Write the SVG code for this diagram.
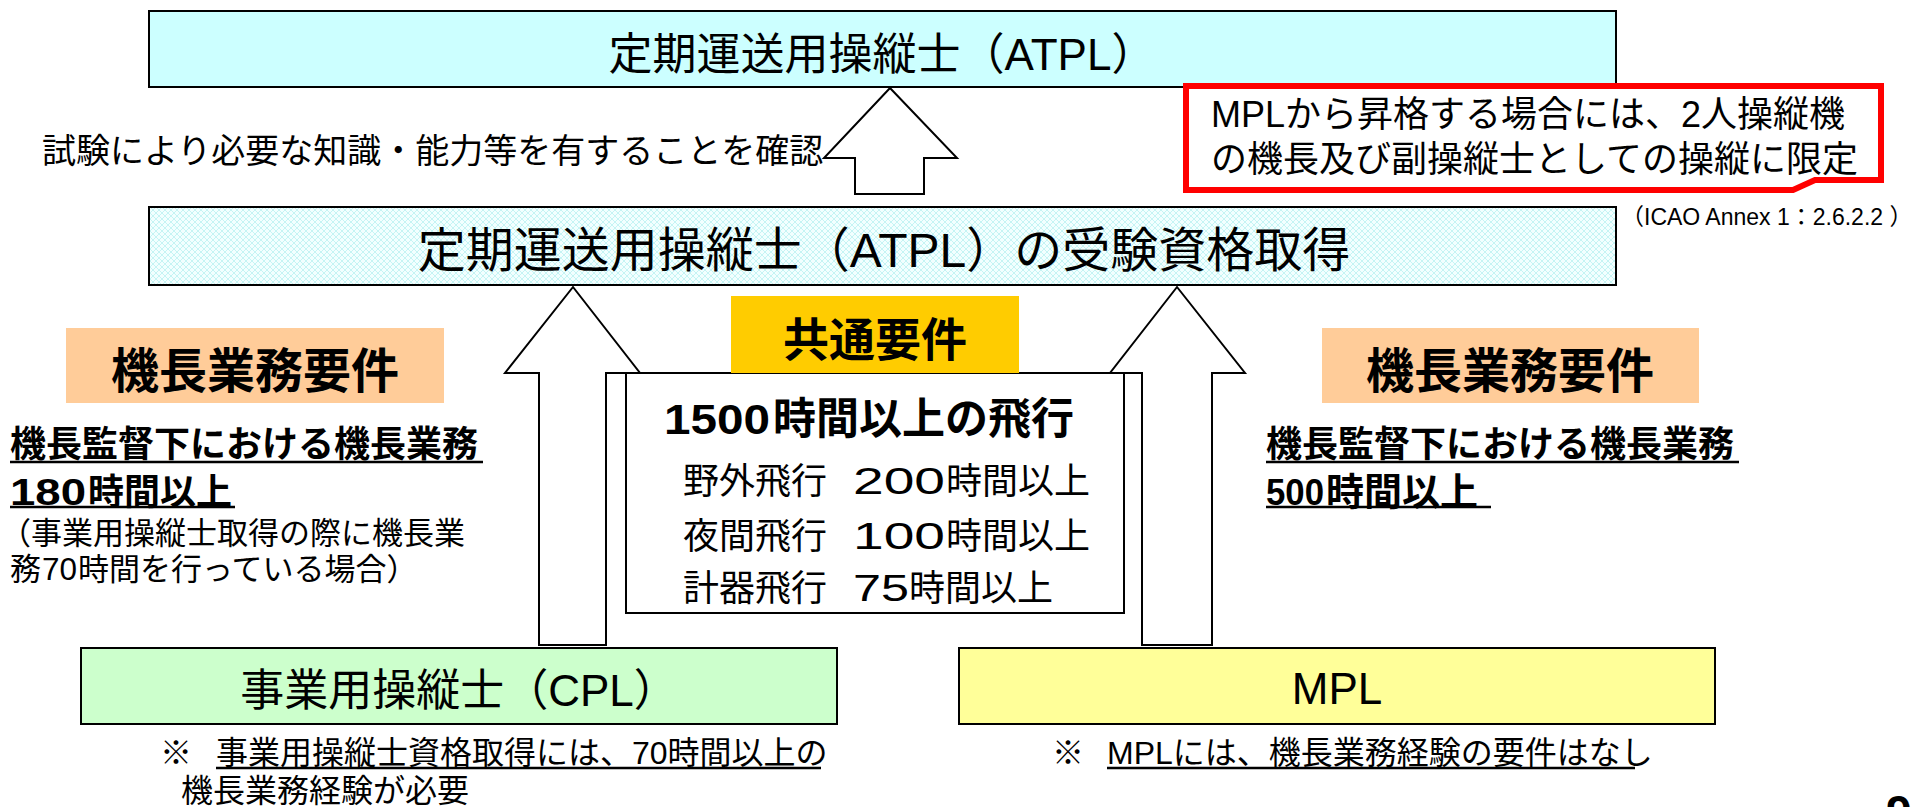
<svg xmlns="http://www.w3.org/2000/svg" width="1913" height="807" viewBox="0 0 1913 807">
<style>
text { font-family: 'Liberation Sans', 'Noto Sans CJK JP', sans-serif; fill: #000; }
.b { font-weight: bold; }
.box { stroke: #000; stroke-width: 2; }
.arrow { fill: #fff; stroke: #000; stroke-width: 2; stroke-linejoin: miter; }
.ul { stroke: #000; stroke-width: 2.5; }
</style>
<defs>
<pattern id="lattice" width="6" height="6" patternUnits="userSpaceOnUse">
<rect width="6" height="6" fill="#F2FFFF"/>
<path d="M0,3 L3,0 L6,3 L3,6 Z" fill="none" stroke="#BFF3F3" stroke-width="0.9"/>
</pattern>
</defs>
<rect width="1913" height="807" fill="#fff"/>

<g id="connectors">
<polygon class="arrow" points="890,88 957,158 924,158 924,194 855,194 855,158 824,158"/>
<polygon class="arrow" points="573,287 640,373 606,373 606,645 539,645 539,373 505,373"/>
<polygon class="arrow" points="1177,287 1245,373 1212,373 1212,645 1142,645 1142,373 1110,373"/>
</g>

<g id="atpl">
<rect class="box" x="149" y="11" width="1467" height="76" fill="#CCFFFF"/>
<text x="882" y="70" font-size="44" text-anchor="middle">定期運送用操縦士（ATPL）</text>
</g>

<g id="exam-label">
<text x="42" y="163" font-size="34">試験により必要な知識・能力等を有することを確認</text>
</g>

<g id="mpl-callout">
<path d="M1186,86 H1881 V180 H1815 L1793,190 H1186 Z" fill="#fff" stroke="#FF0000" stroke-width="6" stroke-linejoin="miter"/>
<text x="1211" y="127" font-size="36">MPLから昇格する場合には、2人操縦機</text>
<text x="1211" y="172" font-size="36">の機長及び副操縦士としての操縦に限定</text>
</g>

<g id="icao-ref">
<text x="1621" y="225" font-size="23">（ICAO Annex 1：2.6.2.2 ）</text>
</g>

<g id="atpl-eligibility">
<rect class="box" x="149" y="207" width="1467" height="78" fill="url(#lattice)"/>
<text x="884" y="267" font-size="48" text-anchor="middle">定期運送用操縦士（ATPL）の受験資格取得</text>
</g>

<g id="common-requirements">
<rect class="box" x="626" y="373" width="498" height="240" fill="#fff"/>
<rect x="731" y="296" width="288" height="77" fill="#FFCC00"/>
<text class="b" x="875" y="356" font-size="46" text-anchor="middle">共通要件</text>
<text class="b" x="664" y="434" font-size="43" textLength="106" lengthAdjust="spacingAndGlyphs">1500</text>
<text class="b" x="773" y="434" font-size="43">時間以上の飛行</text>
<text x="683" y="494" font-size="36">野外飛行</text>
<text x="853" y="494" font-size="36" textLength="92" lengthAdjust="spacingAndGlyphs">200</text>
<text x="946" y="494" font-size="36">時間以上</text>
<text x="683" y="549" font-size="36">夜間飛行</text>
<text x="853" y="549" font-size="36" textLength="92" lengthAdjust="spacingAndGlyphs">100</text>
<text x="946" y="549" font-size="36">時間以上</text>
<text x="683" y="601" font-size="36">計器飛行</text>
<text x="853" y="601" font-size="36" textLength="56" lengthAdjust="spacingAndGlyphs">75</text>
<text x="909" y="601" font-size="36">時間以上</text>
</g>

<g id="cpl-captain-requirements">
<rect x="66" y="328" width="378" height="75" fill="#FFCC99"/>
<text class="b" x="255" y="388" font-size="48" text-anchor="middle">機長業務要件</text>
<text class="b" x="10" y="457" font-size="36">機長監督下における機長業務</text>
<line class="ul" x1="10" y1="462" x2="483" y2="462"/>
<text class="b" x="10" y="505" font-size="36" textLength="76" lengthAdjust="spacingAndGlyphs">180</text>
<text class="b" x="88" y="505" font-size="36">時間以上</text>
<line class="ul" x1="10" y1="507" x2="235" y2="507"/>
<text x="0" y="544" font-size="31">（事業用操縦士取得の際に機長業</text>
<text x="10" y="580" font-size="31">務</text>
<text x="42" y="580" font-size="31" textLength="35" lengthAdjust="spacingAndGlyphs">70</text>
<text x="78" y="580" font-size="31">時間を行っている場合）</text>
</g>

<g id="mpl-captain-requirements">
<rect x="1322" y="328" width="377" height="75" fill="#FFCC99"/>
<text class="b" x="1510" y="388" font-size="48" text-anchor="middle">機長業務要件</text>
<text class="b" x="1266" y="457" font-size="36">機長監督下における機長業務</text>
<line class="ul" x1="1266" y1="462" x2="1739" y2="462"/>
<text class="b" x="1266" y="505" font-size="36" textLength="58" lengthAdjust="spacingAndGlyphs">500</text>
<text class="b" x="1326" y="505" font-size="38">時間以上</text>
<line class="ul" x1="1266" y1="507" x2="1491" y2="507"/>
</g>

<g id="cpl">
<rect class="box" x="81" y="648" width="756" height="76" fill="#CCFFCC"/>
<text x="459" y="706" font-size="44" text-anchor="middle">事業用操縦士（CPL）</text>
</g>

<g id="mpl">
<rect class="box" x="959" y="648" width="756" height="76" fill="#FFFF99"/>
<text x="1337" y="704" font-size="44" text-anchor="middle">MPL</text>
</g>

<g id="cpl-note">
<text x="160" y="764" font-size="32">※</text>
<text x="216" y="764" font-size="32">事業用操縦士資格取得には、70時間以上の</text>
<line class="ul" x1="216" y1="768" x2="821" y2="768"/>
<text x="181" y="802" font-size="32">機長業務経験が必要</text>
</g>

<g id="mpl-note">
<text x="1052" y="764" font-size="32">※</text>
<text x="1107" y="764" font-size="32">MPLには、機長業務経験の要件はなし</text>
<line class="ul" x1="1107" y1="768" x2="1635" y2="768"/>
</g>

<g id="page-number">
<text class="b" x="1886" y="828" font-size="46">9</text>
</g>
</svg>
